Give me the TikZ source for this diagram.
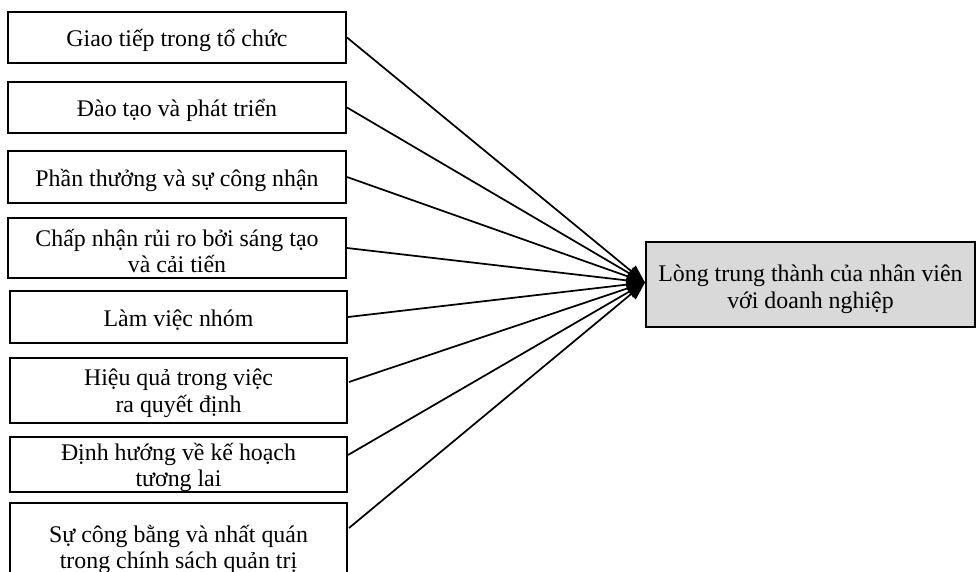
\documentclass[tikz,border=0pt]{standalone}
\usepackage{fontspec}
\setmainfont{Liberation Serif}
\usetikzlibrary{arrows.meta,calc}
\definecolor{outcomegray}{RGB}{217,217,217}
\begin{document}
\begin{tikzpicture}[x=0.75pt,y=-0.75pt,
  factor/.style={draw=black, line width=1.5pt, rectangle, inner sep=0pt},
  outcome/.style={factor, fill=outcomegray},
  txt/.style={align=center, inner sep=0pt, yshift=-2.25pt,
    font=\fontsize{17.9pt}{20pt}\selectfont},
  link/.style={line width=1.3pt, -{Triangle[length=13.5pt,width=10.5pt]}}]
\clip (0,0) rectangle (976,572);

% factor boxes (left column)
\node[factor, minimum width=253.5pt, minimum height=38.25pt,
  label={[txt]center:Giao tiếp trong tổ chức}] (f1) at (177,37.5) {};
\node[factor, minimum width=253.5pt, minimum height=38.25pt,
  label={[txt]center:Đào tạo và phát triển}] (f2) at (177,107.5) {};
\node[factor, minimum width=253.5pt, minimum height=39pt,
  label={[txt]center:Phần thưởng và sự công nhận}] (f3) at (177,177) {};
\node[factor, minimum width=253.5pt, minimum height=45pt,
  label={[txt]center:{Chấp nhận rủi ro bởi sáng tạo\\và cải tiến}}] (f4) at (177,248) {};
\node[factor, minimum width=252.75pt, minimum height=39pt,
  label={[txt]center:Làm việc nhóm}] (f5) at (178.5,317) {};
\node[factor, minimum width=252.75pt, minimum height=48.75pt,
  label={[txt]center:{Hiệu quả trong việc\\ra quyết định}}] (f6) at (178.5,390.5) {};
\node[factor, minimum width=252.75pt, minimum height=41.25pt,
  label={[txt]center:{Định hướng về kế hoạch\\tương lai}}] (f7) at (178.5,464.5) {};
\node[factor, minimum width=252.75pt, minimum height=65.25pt,
  label={[txt]center:{Sự công bằng và nhất quán\\trong chính sách quản trị}}] (f8) at (178.5,546.5) {};

% outcome box
\node[outcome, minimum width=246.75pt, minimum height=63.75pt,
  label={[txt, yshift=-1.5pt]center:{Lòng trung thành của nhân viên\\với doanh nghiệp}}] (out) at (810.5,284.5) {};

% connectors
\foreach \i in {1,...,5}
  \draw[link] (f\i.east) -- ($(out.west)+(0,-2)$);
\draw[link] ($(f6.east)+(1,-8.5)$) -- ($(out.west)+(0,-2)$);
\draw[link] ($(f7.east)+(0,-9.5)$) -- ($(out.west)+(0,-2)$);
\draw[link] ($(f8.east)+(1,-18.5)$) -- ($(out.west)+(0,-2)$);
\end{tikzpicture}
\end{document}
